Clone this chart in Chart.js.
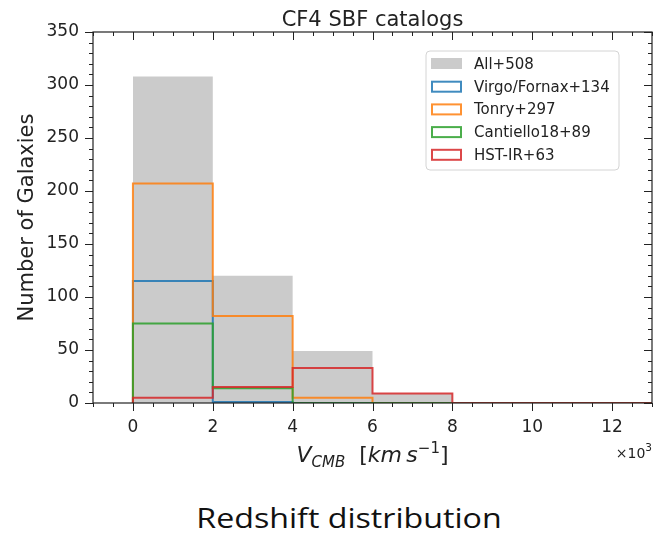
<!DOCTYPE html>
<html lang="en">
<head>
  <meta charset="UTF-8">
  <title>CF4 SBF catalogs</title>
  <script src="https://cdn.jsdelivr.net/npm/chart.js"></script>
  <style>
    body { margin: 0; background: #fff; }
    .wrap { position: relative; width: 654px; height: 542px; }
    #hist { position: absolute; left: 0; top: 0; }
    .caption {
      position: absolute; left: 349px; top: 499px; transform: translateX(-50%) scaleX(1.17);
      font-family: 'Open Sans', sans-serif; font-size: 27.5px; color: #111; white-space: nowrap;
    }
  </style>
</head>
<body>
<div class="wrap">
  <canvas id="hist" width="654" height="490"></canvas>
  <div class="caption">Redshift distribution</div>
</div>

<script>
  // bin edges in units of 10^3 km/s
  const binEdges = [0, 2, 4, 6, 8, 10, 12, 14];

  const allCounts       = [308, 120, 49, 9, 0, 0, 0];
  const virgoCounts     = [115, 1, 0, 0, 0, 0, 0];
  const tonryCounts     = [207, 82, 5, 0, 0, 0, 0];
  const cantielloCounts = [75, 14, 0, 0, 0, 0, 0];
  const hstCounts       = [5, 15, 33, 9, 0, 0, 0];

  const xTicks = [0, 2, 4, 6, 8, 10, 12];
  const yTicks = [0, 50, 100, 150, 200, 250, 300, 350];

  const FONT = "'DejaVu Sans', sans-serif";
  const INK = '#222';

  // step outline: start at 0, one point per left edge, close on the last edge
  function stepPoints(counts) {
    const pts = [{ x: binEdges[0], y: 0 }];
    counts.forEach((c, i) => pts.push({ x: binEdges[i], y: c }));
    pts.push({ x: binEdges[binEdges.length - 1], y: 0 });
    return pts;
  }

  // 'before' in chart.js = horizontal first, then vertical at the next edge
  function stepSet(label, counts, color, order) {
    return {
      label: label,
      data: stepPoints(counts),
      stepped: 'before',
      borderColor: color,
      borderWidth: 2,
      pointRadius: 0,
      fill: false,
      order: order
    };
  }

  // spines, ticks, axis labels, offset text and legend
  const frame = {
    id: 'frame',
    afterDraw(chart) {
      const ctx = chart.ctx;
      const a = chart.chartArea;
      const xs = chart.scales.x, ys = chart.scales.y;
      ctx.save();

      ctx.strokeStyle = INK;
      ctx.lineWidth = 1.2;
      ctx.strokeRect(a.left, a.top, a.right - a.left, a.bottom - a.top);

      const MAJ = 8, MIN = 4;
      ctx.lineWidth = 1;
      ctx.beginPath();
      // x ticks: outward at bottom, inward at top
      for (let v = -1; v <= 13.001; v += 0.5) {
        const px = Math.round(xs.getPixelForValue(v)) + 0.5;
        const len = xTicks.includes(v) ? MAJ : MIN;
        ctx.moveTo(px, a.bottom); ctx.lineTo(px, a.bottom + len);
        ctx.moveTo(px, a.top); ctx.lineTo(px, a.top + len);
      }
      // y ticks: outward at left, inward at right
      for (let v = 0; v <= 350; v += 10) {
        const py = Math.round(ys.getPixelForValue(v)) + 0.5;
        const len = yTicks.includes(v) ? MAJ : MIN;
        ctx.moveTo(a.left, py); ctx.lineTo(a.left - len, py);
        ctx.moveTo(a.right, py); ctx.lineTo(a.right - len, py);
      }
      ctx.stroke();

      ctx.fillStyle = INK;
      // title
      ctx.font = '21px ' + FONT;
      ctx.textAlign = 'center';
      ctx.textBaseline = 'alphabetic';
      ctx.fillText('CF4 SBF catalogs', (a.left + a.right) / 2, 26);

      // y axis label
      ctx.save();
      ctx.translate(33, (a.top + a.bottom) / 2);
      ctx.rotate(-Math.PI / 2);
      ctx.font = '21px ' + FONT;
      ctx.fillText('Number of Galaxies', 0, 0);
      ctx.restore();

      // x axis label, mathtext style
      const big = 22, small = 15;
      const parts = [
        { t: 'V', f: 'italic ' + big + 'px ' + FONT, dy: 0 },
        { t: 'CMB', f: 'italic ' + small + 'px ' + FONT, dy: 5 },
        { t: '  [', f: big + 'px ' + FONT, dy: 0 },
        { t: 'km', f: 'italic ' + big + 'px ' + FONT, dy: 0 },
        { t: '\u2009s', f: 'italic ' + big + 'px ' + FONT, dy: 0 },
        { t: '\u2212', f: small + 'px ' + FONT, dy: -9 },
        { t: '1', f: small + 'px ' + FONT, dy: -9 },
        { t: ']', f: big + 'px ' + FONT, dy: 0 }
      ];
      let total = 0;
      parts.forEach(p => { ctx.font = p.f; p.w = ctx.measureText(p.t).width; total += p.w; });
      let cx = (a.left + a.right) / 2 - total / 2;
      const base = 462;
      ctx.textAlign = 'left';
      parts.forEach(p => { ctx.font = p.f; ctx.fillText(p.t, cx, base + p.dy); cx += p.w; });

      // offset text
      ctx.font = '14px ' + FONT;
      const sup = ctx.measureText('3').width * 0.75;
      ctx.textAlign = 'right';
      ctx.fillText('\u00d710', a.right - sup, 458);
      ctx.font = '10.5px ' + FONT;
      ctx.fillText('3', a.right, 451);

      // legend
      const lx = 426, ly = 51, lw = 193, lh = 119;
      ctx.beginPath();
      ctx.roundRect(lx, ly, lw, lh, 4);
      ctx.fillStyle = 'rgba(255,255,255,0.8)';
      ctx.fill();
      ctx.strokeStyle = '#d4d4d4';
      ctx.lineWidth = 1;
      ctx.stroke();
      ctx.font = '15px ' + FONT;
      ctx.textAlign = 'left';
      ctx.textBaseline = 'middle';
      chart.data.datasets.forEach((ds, i) => {
        const cy = 64 + i * 22.7;
        if (ds.fill) {
          ctx.fillStyle = ds.backgroundColor;
          ctx.fillRect(431, cy - 6, 31, 11);
        } else {
          ctx.strokeStyle = ds.borderColor;
          ctx.lineWidth = 2;
          ctx.strokeRect(432, cy - 5, 29, 10);
        }
        ctx.fillStyle = INK;
        ctx.fillText(ds.label, 474, cy + 1);
      });

      ctx.restore();
    }
  };

  new Chart(document.getElementById('hist'), {
    type: 'line',
    data: {
      datasets: [
        {
          label: 'All+508',
          data: stepPoints(allCounts),
          stepped: 'before',
          borderWidth: 0,
          borderColor: 'rgba(0,0,0,0)',
          backgroundColor: '#cbcbcb',
          pointRadius: 0,
          fill: 'origin',
          order: 5
        },
        stepSet('Virgo/Fornax+134', virgoCounts, 'rgba(31,119,180,0.85)', 4),
        stepSet('Tonry+297', tonryCounts, 'rgba(255,127,14,0.85)', 3),
        stepSet('Cantiello18+89', cantielloCounts, 'rgba(44,160,44,0.85)', 2),
        stepSet('HST-IR+63', hstCounts, 'rgba(214,39,40,0.85)', 1)
      ]
    },
    options: {
      responsive: false,
      animation: false,
      layout: { padding: { top: 32, right: 2, left: 0, bottom: 0 } },
      plugins: { legend: { display: false }, tooltip: { enabled: false } },
      scales: {
        x: {
          type: 'linear',
          min: -1,
          max: 13,
          grid: { display: false, drawTicks: false },
          border: { display: false },
          afterBuildTicks: s => { s.ticks = xTicks.map(v => ({ value: v })); },
          afterFit: s => { s.height = 490 - 403; },
          ticks: { padding: 14, color: INK, font: { family: FONT, size: 17 }, maxRotation: 0 }
        },
        y: {
          min: 0,
          max: 350,
          grid: { display: false, drawTicks: false },
          border: { display: false },
          afterBuildTicks: s => { s.ticks = yTicks.map(v => ({ value: v })); },
          afterFit: s => { s.width = 93; },
          ticks: { padding: 14, color: INK, font: { family: FONT, size: 17 } }
        }
      }
    },
    plugins: [frame]
  });
</script>
</body>
</html>
